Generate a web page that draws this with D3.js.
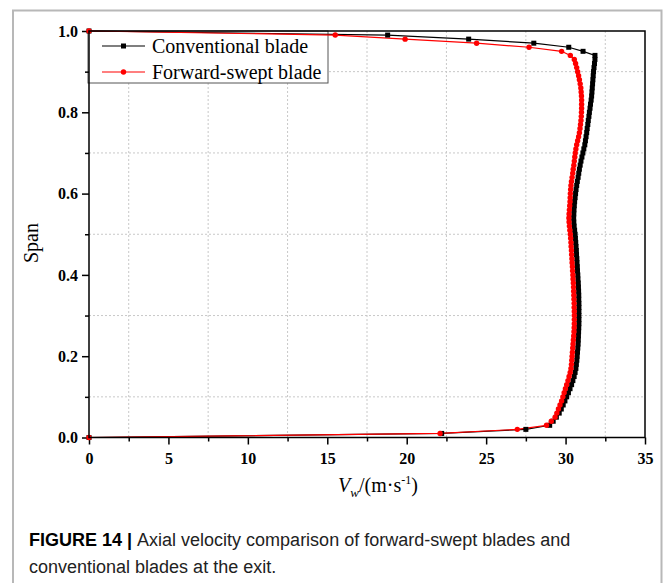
<!DOCTYPE html>
<html>
<head>
<meta charset="utf-8">
<script src="https://cdn.jsdelivr.net/npm/d3@7"></script>
<style>
  body { margin: 0; background: #fff; }
  svg { display: block; }
</style>
</head>
<body>
<div id="chart"></div>
<script>
// span positions (shared by both series)
const spans = [
  1.00, 0.99, 0.98, 0.97, 0.96, 0.95, 0.94, 0.93, 0.92, 0.91,
  0.90, 0.89, 0.88, 0.87, 0.86, 0.85, 0.84, 0.83, 0.82, 0.81,
  0.80, 0.79, 0.78, 0.77, 0.76, 0.75, 0.74, 0.73, 0.72, 0.71,
  0.70, 0.69, 0.68, 0.67, 0.66, 0.65, 0.64, 0.63, 0.62, 0.61,
  0.60, 0.59, 0.58, 0.57, 0.56, 0.55, 0.54, 0.53, 0.52, 0.51,
  0.50, 0.49, 0.48, 0.47, 0.46, 0.45, 0.44, 0.43, 0.42, 0.41,
  0.40, 0.39, 0.38, 0.37, 0.36, 0.35, 0.34, 0.33, 0.32, 0.31,
  0.30, 0.29, 0.28, 0.27, 0.26, 0.25, 0.24, 0.23, 0.22, 0.21,
  0.20, 0.19, 0.18, 0.17, 0.16, 0.15, 0.14, 0.13, 0.12, 0.11,
  0.10, 0.09, 0.08, 0.07, 0.06, 0.05, 0.04, 0.03, 0.02, 0.01,
  0.00
];

// axial velocity, conventional blade
const conventional = [
  0, 18.8, 23.9, 28.0, 30.2, 31.1, 31.85, 31.85, 31.82, 31.79,
  31.76, 31.74, 31.72, 31.70, 31.68, 31.66, 31.64, 31.61, 31.57, 31.54,
  31.50, 31.47, 31.43, 31.40, 31.36, 31.33, 31.29, 31.25, 31.21, 31.15,
  31.09, 31.03, 30.97, 30.92, 30.87, 30.83, 30.79, 30.74, 30.70, 30.66,
  30.63, 30.60, 30.57, 30.55, 30.53, 30.52, 30.51, 30.52, 30.54, 30.57,
  30.60, 30.62, 30.64, 30.66, 30.68, 30.69, 30.71, 30.72, 30.74, 30.75,
  30.77, 30.78, 30.80, 30.81, 30.82, 30.83, 30.83, 30.84, 30.84, 30.84,
  30.84, 30.84, 30.84, 30.83, 30.82, 30.81, 30.80, 30.79, 30.77, 30.75,
  30.73, 30.71, 30.68, 30.65, 30.60, 30.54, 30.46, 30.38, 30.28, 30.18,
  30.07, 29.96, 29.85, 29.73, 29.60, 29.42, 29.22, 29.00, 27.5, 22.2,
  0
];

// axial velocity, forward-swept blade
const forwardSwept = [
  0, 15.5, 19.9, 24.4, 27.7, 29.75, 30.30, 30.55, 30.63, 30.70,
  30.76, 30.82, 30.87, 30.92, 30.96, 30.98, 31.00, 31.01, 31.01, 31.01,
  31.00, 30.99, 30.97, 30.94, 30.91, 30.87, 30.82, 30.76, 30.70, 30.65,
  30.61, 30.58, 30.55, 30.52, 30.48, 30.45, 30.41, 30.37, 30.34, 30.32,
  30.30, 30.29, 30.28, 30.26, 30.24, 30.22, 30.21, 30.22, 30.24, 30.27,
  30.30, 30.32, 30.34, 30.35, 30.37, 30.38, 30.40, 30.41, 30.43, 30.44,
  30.46, 30.47, 30.49, 30.50, 30.51, 30.52, 30.53, 30.54, 30.54, 30.55,
  30.55, 30.55, 30.55, 30.54, 30.53, 30.51, 30.49, 30.47, 30.45, 30.43,
  30.41, 30.39, 30.37, 30.34, 30.29, 30.22, 30.15, 30.07, 29.99, 29.91,
  29.83, 29.75, 29.65, 29.55, 29.45, 29.34, 29.10, 28.80, 26.96, 22.1,
  0
];

const seriesNames = ["Conventional blade", "Forward-swept blade"];
const xMajor = [0, 5, 10, 15, 20, 25, 30, 35];
const xMinor = [2.5, 7.5, 12.5, 17.5, 22.5, 27.5, 32.5];
const yMajor = [0, 0.2, 0.4, 0.6, 0.8, 1.0];
const yMinor = [0.1, 0.3, 0.5, 0.7, 0.9];

const width = 663, height = 583;
const plot = { left: 89, right: 645, top: 31, bottom: 437.5 };

const svg = d3.select("#chart")
    .append("svg")
    .attr("width", width)
    .attr("height", height);

// outer figure frame
svg.append("path")
    .attr("d", `M13,${height} V10.5 H661.5 V${height}`)
    .attr("fill", "none")
    .attr("stroke", "#b8b8b8")
    .attr("stroke-width", 2);

const x = d3.scaleLinear().domain([0, 35]).range([plot.left, plot.right]);
const y = d3.scaleLinear().domain([0, 1]).range([plot.bottom, plot.top]);

// dotted grid on the minor positions
svg.append("g")
    .selectAll("line")
    .data(xMinor)
    .join("line")
    .attr("x1", d => x(d)).attr("x2", d => x(d))
    .attr("y1", plot.top).attr("y2", plot.bottom)
    .attr("stroke", "#c8c8c8")
    .attr("stroke-dasharray", "2,2");

svg.append("g")
    .selectAll("line")
    .data(yMinor)
    .join("line")
    .attr("y1", d => y(d)).attr("y2", d => y(d))
    .attr("x1", plot.left).attr("x2", plot.right)
    .attr("stroke", "#c8c8c8")
    .attr("stroke-dasharray", "2,2");

// legend background (drawn under the curves)
const legend = { x: 88, y: 31, w: 240, h: 52 };
svg.append("rect")
    .attr("x", legend.x).attr("y", legend.y)
    .attr("width", legend.w).attr("height", legend.h)
    .attr("fill", "white")
    .attr("stroke", "#555")
    .attr("stroke-width", 1);

// axes
const xAxis = d3.axisBottom(x).tickValues(xMajor).tickSize(7).tickFormat(d3.format("d"));
const xAxisMinor = d3.axisBottom(x).tickValues(xMinor).tickSize(4).tickFormat("");
const yAxis = d3.axisLeft(y).tickValues(yMajor).tickSize(7).tickFormat(d3.format(".1f"));
const yAxisMinor = d3.axisLeft(y).tickValues(yMinor).tickSize(4).tickFormat("");

function styleAxis(g) {
    g.select(".domain").remove();
    g.selectAll(".tick line").attr("stroke", "#000").attr("stroke-width", 1.5);
    g.selectAll(".tick text")
        .attr("fill", "#000")
        .style("font-family", "'Liberation Serif', 'Times New Roman', serif")
        .style("font-weight", "bold")
        .style("font-size", "16px");
}

svg.append("g").attr("transform", `translate(0,${plot.bottom})`).call(xAxisMinor).call(styleAxis);
svg.append("g").attr("transform", `translate(0,${plot.bottom})`).call(xAxis).call(styleAxis)
    .selectAll(".tick text").attr("dy", "1.05em");
svg.append("g").attr("transform", `translate(${plot.left},0)`).call(yAxisMinor).call(styleAxis);
svg.append("g").attr("transform", `translate(${plot.left},0)`).call(yAxis).call(styleAxis)
    .selectAll(".tick text").attr("x", -11);

// curves
const colors = ["#000000", "#ff0000"];
const seriesData = [conventional, forwardSwept].map(vals => vals.map((v, i) => ({ v: v, s: spans[i] })));

const line = d3.line().x(d => x(d.v)).y(d => y(d.s));

seriesData.forEach((data, k) => {
    svg.append("path")
        .datum(data)
        .attr("d", line)
        .attr("fill", "none")
        .attr("stroke", colors[k])
        .attr("stroke-width", 1.2);
});

// markers: squares for conventional, circles for forward-swept
svg.append("g")
    .selectAll("rect")
    .data(seriesData[0])
    .join("rect")
    .attr("x", d => x(d.v) - 2.5)
    .attr("y", d => y(d.s) - 2.5)
    .attr("width", 5).attr("height", 5)
    .attr("fill", colors[0]);

svg.append("g")
    .selectAll("circle")
    .data(seriesData[1])
    .join("circle")
    .attr("cx", d => x(d.v))
    .attr("cy", d => y(d.s))
    .attr("r", 2.7)
    .attr("fill", colors[1]);

// plot frame
svg.append("rect")
    .attr("x", plot.left).attr("y", plot.top)
    .attr("width", plot.right - plot.left)
    .attr("height", plot.bottom - plot.top)
    .attr("fill", "none")
    .attr("stroke", "#000")
    .attr("stroke-width", 1.5);

// legend entries
seriesNames.forEach((name, k) => {
    const ly = 46 + k * 26;
    svg.append("line")
        .attr("x1", 102).attr("x2", 145)
        .attr("y1", ly).attr("y2", ly)
        .attr("stroke", colors[k]).attr("stroke-width", 1.2);
    if (k === 0) {
        svg.append("rect").attr("x", 121).attr("y", ly - 2.5)
            .attr("width", 5).attr("height", 5).attr("fill", colors[k]);
    } else {
        svg.append("circle").attr("cx", 123.5).attr("cy", ly).attr("r", 2.7).attr("fill", colors[k]);
    }
    svg.append("text")
        .attr("x", 152).attr("y", ly + 7)
        .style("font-family", "'Liberation Serif', 'Times New Roman', serif")
        .style("font-size", "20px")
        .text(name);
});

// axis titles
svg.append("text")
    .attr("transform", `translate(38,243) rotate(-90)`)
    .attr("text-anchor", "middle")
    .style("font-family", "'Liberation Serif', 'Times New Roman', serif")
    .style("font-size", "20px")
    .text("Span");

const xt = svg.append("text")
    .attr("x", 378).attr("y", 492)
    .attr("text-anchor", "middle")
    .style("font-family", "'Liberation Serif', 'Times New Roman', serif")
    .style("font-size", "20px");
xt.append("tspan").style("font-style", "italic").text("V");
xt.append("tspan").style("font-style", "italic").style("font-size", "13px").attr("dy", 5).text("w");
xt.append("tspan").attr("dy", -5).text("/(m·s");
xt.append("tspan").style("font-size", "12px").attr("dy", -8).text("-1");
xt.append("tspan").attr("dy", 8).text(")");

// caption
const cap = svg.append("text")
    .attr("x", 29).attr("y", 546)
    .style("font-family", "'Liberation Sans', Arial, sans-serif")
    .style("font-size", "18px")
    .attr("fill", "#222");
cap.append("tspan").style("font-weight", "bold").attr("fill", "#000").text("FIGURE 14 | ");
cap.append("tspan").text("Axial velocity comparison of forward-swept blades and");
svg.append("text")
    .attr("x", 29).attr("y", 573)
    .style("font-family", "'Liberation Sans', Arial, sans-serif")
    .style("font-size", "18px")
    .attr("fill", "#222")
    .text("conventional blades at the exit.");
</script>
</body>
</html>
